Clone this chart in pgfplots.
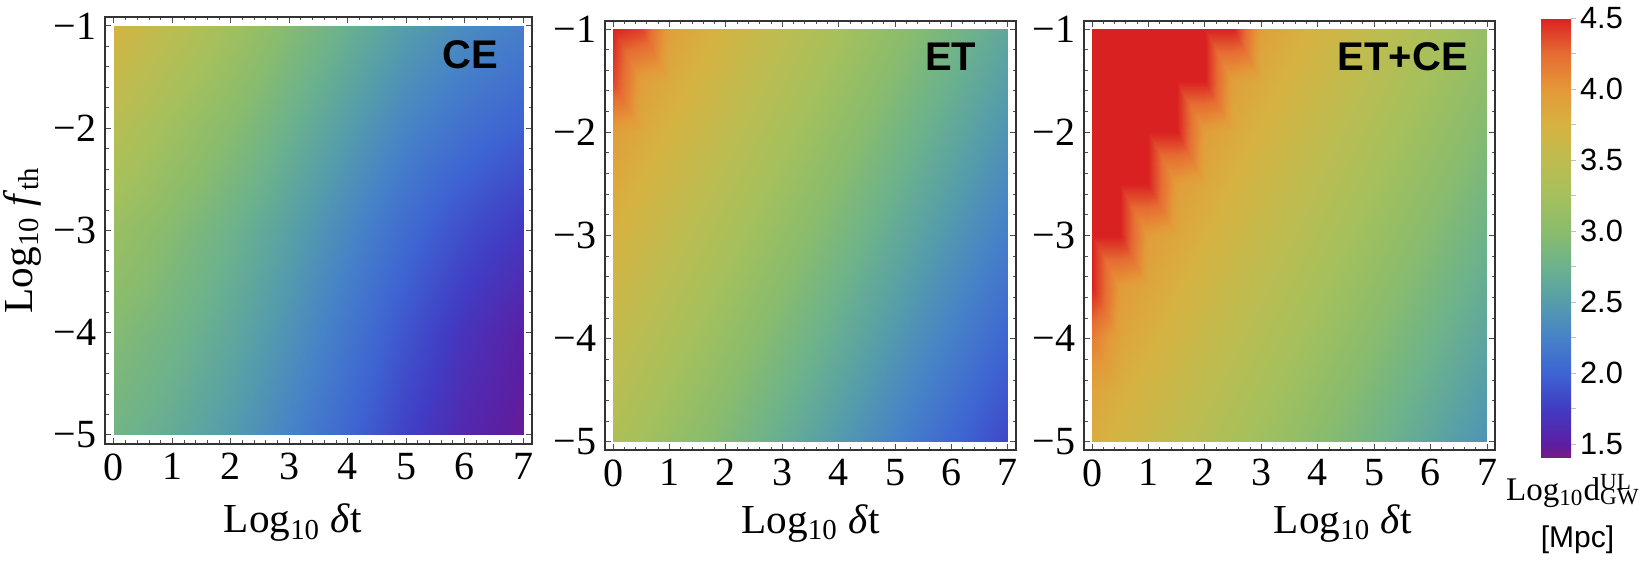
\documentclass[border=0pt]{standalone}
\usepackage{pgfplots}
\pgfplotsset{compat=1.18}
\usepackage{fontspec}
\setmainfont{Liberation Serif}
\newfontfamily\arial{Liberation Sans}

\pgfplotsset{
  colormap={mma}{rgb255(140pt)=(118,28,132) rgb255(150pt)=(92,30,162)
    rgb255(175pt)=(65,60,196) rgb255(200pt)=(62,100,210) rgb255(225pt)=(70,130,200)
    rgb255(250pt)=(85,157,170) rgb255(275pt)=(108,178,140) rgb255(300pt)=(138,188,108)
    rgb255(325pt)=(165,192,92) rgb255(350pt)=(190,188,80) rgb255(375pt)=(214,178,65)
    rgb255(400pt)=(228,152,56) rgb255(425pt)=(230,108,50) rgb255(450pt)=(218,33,34)},
  hm/.style={
    scale only axis, anchor=north west,
    xtick={0,...,7}, xticklabels={0,1,2,3,4,5,6,7},
    ytick={-5,-4,-3,-2,-1}, yticklabels={−5,−4,−3,−2,−1},
    minor x tick num=4, minor y tick num=4,
    tick align=inside, major tick length=2.4pt, minor tick length=1.4pt,
    tick style={black!70, line width=0.4pt},
    axis line style={black!80, line width=0.5pt},
    ticklabel style={font=\fontsize{16}{18}\selectfont},
    xticklabel style={inner sep=0pt, anchor=north, yshift=-3.6pt},
    yticklabel style={inner sep=0pt, anchor=east, xshift=-3.2pt},
    label style={font=\fontsize{16.5}{19}\selectfont},
    xlabel={Log\textsubscript{10} \textit{δ}t},
    colormap name=mma, point meta min=1.4, point meta max=4.5,
  },
}
\tikzset{tag/.style={anchor=east, font=\arial\bfseries\fontsize{16}{19}\selectfont}}

\begin{document}
\begin{tikzpicture}
\path[use as bounding box] (0,0) rectangle (657.2pt,224.8pt);

% CE
\begin{axis}[hm, at={(42pt,218pt)}, width=170.8pt, height=170.8pt,
  xmin=-0.154, xmax=7.154, ymin=-5.088, ymax=-0.912,
  xlabel style={at={(axis description cs:0.44,-0.208)}, anchor=base},
  ylabel={Log\textsubscript{10} \textit{f}\textsubscript{th}},
  ylabel style={at={(axis description cs:-0.170,0.478)}, anchor=base}]
\addplot[surf, shader=interp, mesh/cols=8, point meta=explicit] coordinates {
(0,-5) [2.80] (1,-5) [2.66] (2,-5) [2.48] (3,-5) [2.26] (4,-5) [2.02] (5,-5) [1.78] (6,-5) [1.58] (7,-5) [1.45]
(0,-4) [2.95] (1,-4) [2.80] (2,-4) [2.62] (3,-4) [2.40] (4,-4) [2.15] (5,-4) [1.90] (6,-4) [1.68] (7,-4) [1.52]
(0,-3) [3.15] (1,-3) [2.96] (2,-3) [2.76] (3,-3) [2.54] (4,-3) [2.30] (5,-3) [2.06] (6,-3) [1.86] (7,-3) [1.72]
(0,-2) [3.43] (1,-2) [3.20] (2,-2) [2.98] (3,-2) [2.74] (4,-2) [2.50] (5,-2) [2.27] (6,-2) [2.10] (7,-2) [1.98]
(0,-1) [3.72] (1,-1) [3.47] (2,-1) [3.22] (3,-1) [2.96] (4,-1) [2.72] (5,-1) [2.50] (6,-1) [2.33] (7,-1) [2.22]
};
\node[tag] at (rel axis cs:0.941,0.911) {CE};
\end{axis}

% ET
\begin{axis}[hm, at={(242pt,216.4pt)}, width=164.4pt, height=171.6pt,
  xmin=-0.142, xmax=7.142, ymin=-5.078, ymax=-0.922,
  xlabel style={at={(axis description cs:0.5,-0.1935)}, anchor=base}]
\addplot[surf, shader=interp, mesh/cols=15, point meta=explicit] coordinates {
(0,-5) [3.35] (0.5,-5) [3.24] (1,-5) [3.13] (1.5,-5) [3.02] (2,-5) [2.91] (2.5,-5) [2.80] (3,-5) [2.69] (3.5,-5) [2.58] (4,-5) [2.47] (4.5,-5) [2.36] (5,-5) [2.25] (5.5,-5) [2.14] (6,-5) [2.03] (6.5,-5) [1.92] (7,-5) [1.81]
(0,-4.5) [3.45] (0.5,-4.5) [3.34] (1,-4.5) [3.23] (1.5,-4.5) [3.12] (2,-4.5) [3.01] (2.5,-4.5) [2.90] (3,-4.5) [2.79] (3.5,-4.5) [2.68] (4,-4.5) [2.57] (4.5,-4.5) [2.46] (5,-4.5) [2.35] (5.5,-4.5) [2.24] (6,-4.5) [2.13] (6.5,-4.5) [2.02] (7,-4.5) [1.91]
(0,-4) [3.55] (0.5,-4) [3.44] (1,-4) [3.33] (1.5,-4) [3.22] (2,-4) [3.11] (2.5,-4) [3.00] (3,-4) [2.89] (3.5,-4) [2.78] (4,-4) [2.67] (4.5,-4) [2.56] (5,-4) [2.45] (5.5,-4) [2.34] (6,-4) [2.23] (6.5,-4) [2.12] (7,-4) [2.01]
(0,-3.5) [3.65] (0.5,-3.5) [3.54] (1,-3.5) [3.43] (1.5,-3.5) [3.32] (2,-3.5) [3.21] (2.5,-3.5) [3.10] (3,-3.5) [2.99] (3.5,-3.5) [2.88] (4,-3.5) [2.77] (4.5,-3.5) [2.66] (5,-3.5) [2.55] (5.5,-3.5) [2.44] (6,-3.5) [2.33] (6.5,-3.5) [2.22] (7,-3.5) [2.11]
(0,-3) [3.75] (0.5,-3) [3.64] (1,-3) [3.53] (1.5,-3) [3.42] (2,-3) [3.31] (2.5,-3) [3.20] (3,-3) [3.09] (3.5,-3) [2.98] (4,-3) [2.87] (4.5,-3) [2.76] (5,-3) [2.65] (5.5,-3) [2.54] (6,-3) [2.43] (6.5,-3) [2.32] (7,-3) [2.21]
(0,-2.5) [3.85] (0.5,-2.5) [3.74] (1,-2.5) [3.63] (1.5,-2.5) [3.52] (2,-2.5) [3.41] (2.5,-2.5) [3.30] (3,-2.5) [3.19] (3.5,-2.5) [3.08] (4,-2.5) [2.97] (4.5,-2.5) [2.86] (5,-2.5) [2.75] (5.5,-2.5) [2.64] (6,-2.5) [2.53] (6.5,-2.5) [2.42] (7,-2.5) [2.31]
(0,-2) [3.95] (0.5,-2) [3.84] (1,-2) [3.73] (1.5,-2) [3.62] (2,-2) [3.51] (2.5,-2) [3.40] (3,-2) [3.29] (3.5,-2) [3.18] (4,-2) [3.07] (4.5,-2) [2.96] (5,-2) [2.85] (5.5,-2) [2.74] (6,-2) [2.63] (6.5,-2) [2.52] (7,-2) [2.41]
(0,-1.5) [4.40] (0.5,-1.5) [3.94] (1,-1.5) [3.83] (1.5,-1.5) [3.72] (2,-1.5) [3.61] (2.5,-1.5) [3.50] (3,-1.5) [3.39] (3.5,-1.5) [3.28] (4,-1.5) [3.17] (4.5,-1.5) [3.06] (5,-1.5) [2.95] (5.5,-1.5) [2.84] (6,-1.5) [2.73] (6.5,-1.5) [2.62] (7,-1.5) [2.51]
(0,-1) [4.50] (0.5,-1) [4.40] (1,-1) [3.93] (1.5,-1) [3.82] (2,-1) [3.71] (2.5,-1) [3.60] (3,-1) [3.49] (3.5,-1) [3.38] (4,-1) [3.27] (4.5,-1) [3.16] (5,-1) [3.05] (5.5,-1) [2.94] (6,-1) [2.83] (6.5,-1) [2.72] (7,-1) [2.61]
};
\node[tag] at (rel axis cs:0.925,0.917) {ET};
\end{axis}

% ET+CE
\begin{axis}[hm, at={(433.6pt,216.4pt)}, width=164.4pt, height=171.6pt,
  xmin=-0.142, xmax=7.142, ymin=-5.078, ymax=-0.922,
  xlabel style={at={(axis description cs:0.63,-0.1935)}, anchor=base},
  colorbar,
  colorbar style={
    scale only axis, width=12pt, height=176pt,
    at={(parent axis.north east)}, anchor=north west, xshift=9.9pt, yshift=1.2pt,
    ytick={1.5,2,2.5,3,3.5,4,4.5}, yticklabels={1.5,2.0,2.5,3.0,3.5,4.0,4.5},
    ytick pos=right,
    yticklabel style={font=\arial\fontsize{12.3}{14}\selectfont, inner sep=0pt, anchor=west, xshift=1.6pt},
    axis line style={draw=none},
    tick align=outside, major tick length=1.8pt, minor tick length=1.8pt,
    minor y tick num=1, tick style={black!25}}]
\addplot[surf, shader=interp, mesh/cols=15, point meta=explicit] coordinates {
(0,-5) [3.80] (0.5,-5) [3.70] (1,-5) [3.60] (1.5,-5) [3.50] (2,-5) [3.40] (2.5,-5) [3.30] (3,-5) [3.20] (3.5,-5) [3.10] (4,-5) [3.00] (4.5,-5) [2.90] (5,-5) [2.80] (5.5,-5) [2.70] (6,-5) [2.60] (6.5,-5) [2.50] (7,-5) [2.40]
(0,-4.5) [3.89] (0.5,-4.5) [3.79] (1,-4.5) [3.69] (1.5,-4.5) [3.59] (2,-4.5) [3.49] (2.5,-4.5) [3.39] (3,-4.5) [3.29] (3.5,-4.5) [3.19] (4,-4.5) [3.09] (4.5,-4.5) [2.99] (5,-4.5) [2.89] (5.5,-4.5) [2.79] (6,-4.5) [2.69] (6.5,-4.5) [2.59] (7,-4.5) [2.49]
(0,-4) [4.15] (0.5,-4) [3.88] (1,-4) [3.78] (1.5,-4) [3.68] (2,-4) [3.58] (2.5,-4) [3.48] (3,-4) [3.38] (3.5,-4) [3.28] (4,-4) [3.18] (4.5,-4) [3.08] (5,-4) [2.98] (5.5,-4) [2.88] (6,-4) [2.78] (6.5,-4) [2.68] (7,-4) [2.58]
(0,-3.5) [4.50] (0.5,-3.5) [3.97] (1,-3.5) [3.87] (1.5,-3.5) [3.77] (2,-3.5) [3.67] (2.5,-3.5) [3.57] (3,-3.5) [3.47] (3.5,-3.5) [3.37] (4,-3.5) [3.27] (4.5,-3.5) [3.17] (5,-3.5) [3.07] (5.5,-3.5) [2.97] (6,-3.5) [2.87] (6.5,-3.5) [2.77] (7,-3.5) [2.67]
(0,-3) [4.50] (0.5,-3) [4.50] (1,-3) [3.96] (1.5,-3) [3.86] (2,-3) [3.76] (2.5,-3) [3.66] (3,-3) [3.56] (3.5,-3) [3.46] (4,-3) [3.36] (4.5,-3) [3.26] (5,-3) [3.16] (5.5,-3) [3.06] (6,-3) [2.96] (6.5,-3) [2.86] (7,-3) [2.76]
(0,-2.5) [4.50] (0.5,-2.5) [4.50] (1,-2.5) [4.50] (1.5,-2.5) [3.95] (2,-2.5) [3.85] (2.5,-2.5) [3.75] (3,-2.5) [3.65] (3.5,-2.5) [3.55] (4,-2.5) [3.45] (4.5,-2.5) [3.35] (5,-2.5) [3.25] (5.5,-2.5) [3.15] (6,-2.5) [3.05] (6.5,-2.5) [2.95] (7,-2.5) [2.85]
(0,-2) [4.50] (0.5,-2) [4.50] (1,-2) [4.50] (1.5,-2) [4.50] (2,-2) [3.94] (2.5,-2) [3.84] (3,-2) [3.74] (3.5,-2) [3.64] (4,-2) [3.54] (4.5,-2) [3.44] (5,-2) [3.34] (5.5,-2) [3.24] (6,-2) [3.14] (6.5,-2) [3.04] (7,-2) [2.94]
(0,-1.5) [4.50] (0.5,-1.5) [4.50] (1,-1.5) [4.50] (1.5,-1.5) [4.50] (2,-1.5) [4.50] (2.5,-1.5) [3.93] (3,-1.5) [3.83] (3.5,-1.5) [3.73] (4,-1.5) [3.63] (4.5,-1.5) [3.53] (5,-1.5) [3.43] (5.5,-1.5) [3.33] (6,-1.5) [3.23] (6.5,-1.5) [3.13] (7,-1.5) [3.03]
(0,-1) [4.50] (0.5,-1) [4.50] (1,-1) [4.50] (1.5,-1) [4.50] (2,-1) [4.50] (2.5,-1) [4.50] (3,-1) [3.92] (3.5,-1) [3.82] (4,-1) [3.72] (4.5,-1) [3.62] (5,-1) [3.52] (5.5,-1) [3.42] (6,-1) [3.32] (6.5,-1) [3.22] (7,-1) [3.12]
};
\node[tag] at (rel axis cs:0.955,0.917) {ET+CE};
\end{axis}

\node[anchor=base, font=\fontsize{13.2}{15}\selectfont] at (629.2pt,24.8pt)
  {Log\textsubscript{10}d\rlap{\textsuperscript{UL}}\textsubscript{GW}};
\node[anchor=base, font=\arial\fontsize{12}{14}\selectfont] at (631pt,6pt) {[Mpc]};
\end{tikzpicture}
\end{document}
